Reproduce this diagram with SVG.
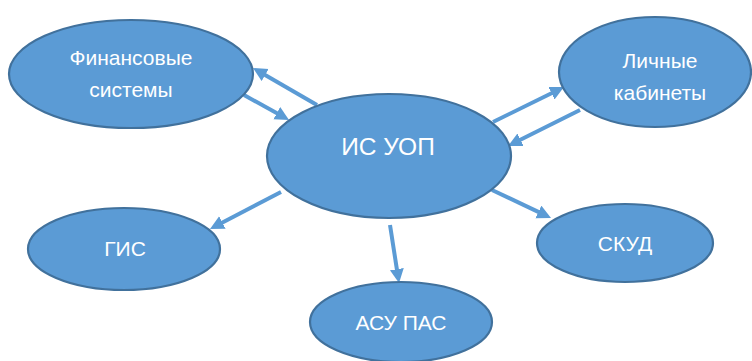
<svg xmlns="http://www.w3.org/2000/svg" width="752" height="361" viewBox="0 0 752 361">
  <style>
    .node ellipse { fill: #5b9bd5; stroke: #41719c; stroke-width: 2.2; }
    .node text { fill: #ffffff; font-family: "Liberation Sans", "Open Sans", sans-serif; text-anchor: middle; }
    .lbl { font-size: 21px; }
    .big { font-size: 24.5px; }
    .edge { fill: none; stroke: #5b9bd5; stroke-width: 4; marker-end: url(#head); }
  </style>
  <defs>
    <marker id="head" markerUnits="userSpaceOnUse" markerWidth="15" markerHeight="15" refX="8" refY="7" orient="auto">
      <path d="M0,0 L14,7 L0,14 z" fill="#5b9bd5"/>
    </marker>
  </defs>
  <rect width="752" height="361" fill="#ffffff"/>

  <g id="connectors">
    <line class="edge" x1="317" y1="105" x2="258.2" y2="71"/>
    <line class="edge" x1="244" y1="95" x2="283.8" y2="117.1"/>
    <line class="edge" x1="493" y1="122" x2="558.6" y2="89.7"/>
    <line class="edge" x1="580" y1="110" x2="513.4" y2="143.3"/>
    <line class="edge" x1="492" y1="190" x2="545.6" y2="215.4"/>
    <line class="edge" x1="281" y1="192" x2="215.3" y2="226.2"/>
    <line class="edge" x1="390" y1="225" x2="398.1" y2="277.1"/>
  </g>

  <g id="fin" class="node">
    <ellipse cx="131" cy="74" rx="122" ry="54"/>
    <text class="lbl" x="131" y="65">Финансовые</text>
    <text class="lbl" x="131" y="97">системы</text>
  </g>

  <g id="is-uop" class="node">
    <ellipse cx="389" cy="156" rx="122" ry="62"/>
    <text class="big" x="388" y="155">ИС УОП</text>
  </g>

  <g id="lk" class="node">
    <ellipse cx="655" cy="72" rx="96" ry="55"/>
    <text class="lbl" x="660" y="68">Личные</text>
    <text class="lbl" x="660" y="100">кабинеты</text>
  </g>

  <g id="skud" class="node">
    <ellipse cx="625" cy="243" rx="88" ry="39"/>
    <text class="lbl" x="625" y="251">СКУД</text>
  </g>

  <g id="gis" class="node">
    <ellipse cx="124" cy="249" rx="96" ry="41"/>
    <text class="lbl" x="125" y="256">ГИС</text>
  </g>

  <g id="asu-pas" class="node">
    <ellipse cx="401" cy="322" rx="91" ry="40"/>
    <text class="lbl" x="401" y="330">АСУ ПАС</text>
  </g>
</svg>
